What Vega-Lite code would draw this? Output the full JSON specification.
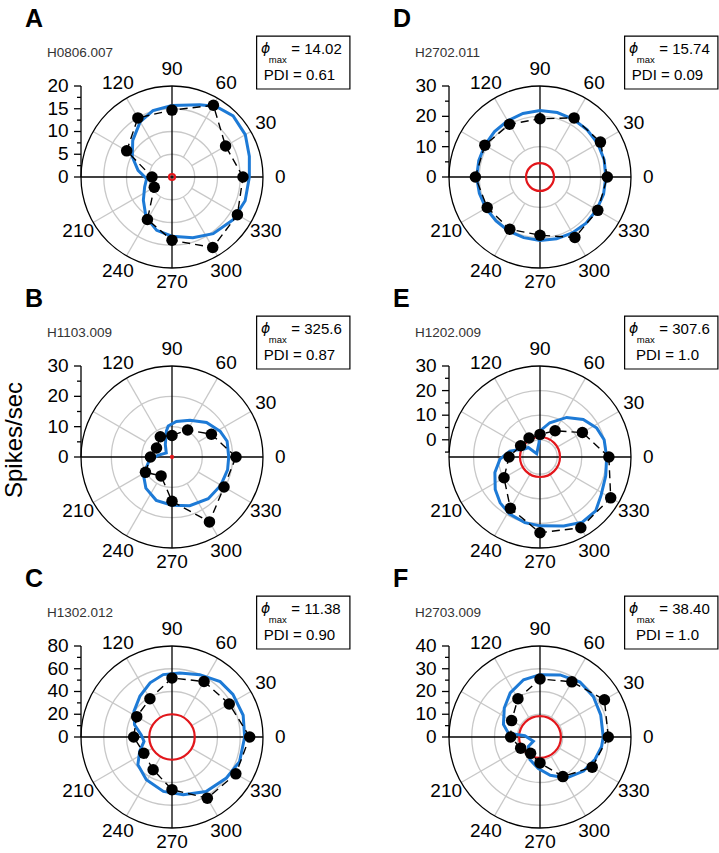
{
"$schema": "https://vega.github.io/schema/vega-lite/v6.json",
"background": "white",
"padding": 0,
"spacing": 0,
"columns": 2,
"align": "each",
"bounds": "flush",
"config": {"font": "Liberation Sans", "view": {"stroke": null}},
"datasets": {"angles": [{"a":0},{"a":30},{"a":60},{"a":90},{"a":120},{"a":210},{"a":240},{"a":270},{"a":300},{"a":330}]},
"concat": [
{
"width": 368, "height": 280,
"data": {"values": [
{"k":"ltr","txt":"A"},{"k":"id","txt":"H0806.007"},{"k":"phi","txt":"= 14.02"},{"k":"pdi","txt":"PDI = 0.61"},
{"k":"g","r":5},{"k":"g","r":10},{"k":"g","r":15},
{"k":"s","a":30,"r":5},{"k":"s","a":60,"r":5},{"k":"s","a":120,"r":5},{"k":"s","a":150,"r":5},{"k":"s","a":210,"r":5},{"k":"s","a":240,"r":5},{"k":"s","a":300,"r":5},{"k":"s","a":330,"r":5},
{"k":"t","r":0,"m":1},{"k":"t","r":2.5,"m":0},{"k":"t","r":5,"m":1},{"k":"t","r":7.5,"m":0},{"k":"t","r":10,"m":1},{"k":"t","r":12.5,"m":0},{"k":"t","r":15,"m":1},{"k":"t","r":17.5,"m":0},{"k":"t","r":20,"m":1},
{"k":"b","r":0.66},
{"k":"d","a":0,"r":15.6},{"k":"d","a":30,"r":13.6},{"k":"d","a":60,"r":18.2},{"k":"d","a":90,"r":14.7},{"k":"d","a":120,"r":15.0},{"k":"d","a":150,"r":11.5},{"k":"d","a":180,"r":4.4},{"k":"d","a":210,"r":4.5},{"k":"d","a":240,"r":10.8},{"k":"d","a":270,"r":13.9},{"k":"d","a":300,"r":17.9},{"k":"d","a":330,"r":16.6},
{"k":"f","a":0,"r":17.0},{"k":"f","a":15,"r":17.6},{"k":"f","a":30,"r":18.6},{"k":"f","a":45,"r":19.0},{"k":"f","a":58,"r":18.3},{"k":"f","a":69,"r":17.0},{"k":"f","a":90,"r":15.7},{"k":"f","a":106,"r":15.2},{"k":"f","a":120,"r":14.0},{"k":"f","a":137,"r":11.8},{"k":"f","a":153,"r":9.8},{"k":"f","a":169,"r":7.6},{"k":"f","a":184,"r":5.6},{"k":"f","a":200,"r":6.4},{"k":"f","a":219,"r":8.1},{"k":"f","a":237,"r":10.5},{"k":"f","a":254,"r":12.2},{"k":"f","a":270,"r":13.0},{"k":"f","a":289,"r":14.1},{"k":"f","a":306,"r":15.4},{"k":"f","a":325,"r":16.4},{"k":"f","a":342,"r":16.9}
]},
"transform": [
{"calculate": "(datum.r - 0)/20", "as": "u"},
{"calculate": "datum.u*cos(datum.a*PI/180)", "as": "x"},
{"calculate": "datum.u*sin(datum.a*PI/180)", "as": "y"},
{"calculate": "cos(datum.a*PI/180)", "as": "x2"},
{"calculate": "sin(datum.a*PI/180)", "as": "y2"},
{"calculate": "0", "as": "o"},
{"calculate": "1", "as": "p1"},
{"calculate": "-1", "as": "m1"}
],
"encoding": {
"x": {"field": "x", "type": "quantitative", "scale": {"domain": [-1.89011, 2.15385], "nice": false, "zero": false}, "axis": null},
"y": {"field": "y", "type": "quantitative", "scale": {"domain": [-1.13187, 1.94505], "nice": false, "zero": false}, "axis": null}
},
"layer": [
{"transform":[{"filter":"datum.k=='g'"}],"mark":{"type":"point","shape":"circle","filled":false,"color":"#c8c8c8","strokeWidth":1.3,"opacity":1},"encoding":{"x":{"field":"o","type":"quantitative","axis":null},"y":{"field":"o","type":"quantitative","axis":null},"size":{"field":"u","type":"quantitative","scale":{"type":"pow","exponent":2,"domain":[0,1],"range":[0,33124]},"legend":null}}},
{"transform":[{"filter":"datum.k=='s'"}],"mark":{"type":"rule","color":"#c8c8c8","strokeWidth":1.3},"encoding":{"x2":{"field":"x2"},"y2":{"field":"y2"}}},
{"transform":[{"filter":"datum.k=='id'"}],"mark":{"type":"point","shape":"circle","filled":false,"color":"black","strokeWidth":1.3,"opacity":1},"encoding":{"x":{"field":"o","type":"quantitative","axis":null},"y":{"field":"o","type":"quantitative","axis":null},"size":{"field":"p1","type":"quantitative","scale":{"type":"pow","exponent":2,"domain":[0,1],"range":[0,33124]},"legend":null}}},
{"transform":[{"filter":"datum.k=='id'"}],"mark":{"type":"rule","color":"black","strokeWidth":1.3},"encoding":{"x":{"field":"m1","type":"quantitative","axis":null},"x2":{"field":"p1"},"y":{"field":"o","type":"quantitative","axis":null}}},
{"transform":[{"filter":"datum.k=='id'"}],"mark":{"type":"rule","color":"black","strokeWidth":1.3},"encoding":{"x":{"field":"o","type":"quantitative","axis":null},"y":{"field":"m1","type":"quantitative","axis":null},"y2":{"field":"p1"}}},
{"transform":[{"filter":"datum.k=='t'"},{"aggregate":[{"op":"min","field":"u","as":"lo"},{"op":"max","field":"u","as":"hi"}]},{"calculate":"-1","as":"m1"}],"mark":{"type":"rule","color":"black","strokeWidth":1.3},"encoding":{"x":{"field":"m1","type":"quantitative","axis":null},"y":{"field":"lo","type":"quantitative","axis":null},"y2":{"field":"hi"}}},
{"transform":[{"filter":"datum.k=='t'"},{"calculate":"datum.m==1 ? -1.077 : -1.044","as":"tx"}],"mark":{"type":"rule","color":"black","strokeWidth":1.3},"encoding":{"x":{"field":"tx","type":"quantitative","axis":null},"x2":{"field":"m1"},"y":{"field":"u","type":"quantitative","axis":null}}},
{"transform":[{"filter":"datum.k=='t' && datum.m==1"},{"calculate":"-1.137","as":"px"}],"mark":{"type":"text","align":"right","baseline":"middle","fontSize":19,"color":"black"},"encoding":{"x":{"field":"px","type":"quantitative","axis":null},"y":{"field":"u","type":"quantitative","axis":null},"text":{"field":"r","type":"nominal"}}},
{"data":{"name":"angles"},"transform":[{"calculate":"(datum.a==270 ? 1.155 : 1.19)*cos(datum.a*PI/180)","as":"lx"},{"calculate":"(datum.a==270 ? 1.155 : 1.19)*sin(datum.a*PI/180)","as":"ly"}],"mark":{"type":"text","align":"center","baseline":"middle","fontSize":19,"color":"black"},"encoding":{"x":{"field":"lx","type":"quantitative","axis":null},"y":{"field":"ly","type":"quantitative","axis":null},"text":{"field":"a","type":"nominal"}}},
{"transform":[{"filter":"datum.k=='b'"}],"mark":{"type":"point","shape":"circle","filled":false,"color":"#e3161b","strokeWidth":2.2,"opacity":1},"encoding":{"x":{"field":"o","type":"quantitative","axis":null},"y":{"field":"o","type":"quantitative","axis":null},"size":{"field":"u","type":"quantitative","scale":{"type":"pow","exponent":2,"domain":[0,1],"range":[0,33124]},"legend":null}}},
{"transform":[{"filter":"datum.k=='f'"}],"mark":{"type":"line","interpolate":"linear-closed","color":"#1d7ad6","strokeWidth":3},"encoding":{"order":{"field":"a","type":"quantitative"}}},
{"transform":[{"filter":"datum.k=='d'"}],"mark":{"type":"line","interpolate":"linear-closed","color":"black","strokeWidth":1.4,"strokeDash":[8,5]},"encoding":{"order":{"field":"a","type":"quantitative"}}},
{"transform":[{"filter":"datum.k=='d'"}],"mark":{"type":"point","shape":"circle","filled":true,"color":"black","size":132,"opacity":1}},
{"transform":[{"filter":"datum.k=='id'"},{"calculate":"0.93","as":"bx1"},{"calculate":"1.955","as":"bx2"},{"calculate":"0.967","as":"by1"},{"calculate":"1.549","as":"by2"}],"mark":{"type":"rect","fill":"white","stroke":"black","strokeWidth":1.2},"encoding":{"x":{"field":"bx1","type":"quantitative","axis":null},"x2":{"field":"bx2"},"y":{"field":"by1","type":"quantitative","axis":null},"y2":{"field":"by2"}}},
{"transform":[{"filter":"datum.k=='id'"},{"calculate":"0.978","as":"px"},{"calculate":"1.363","as":"py"}],"mark":{"type":"text","text":"ϕ","font":"DejaVu Sans","fontStyle":"italic","fontSize":14,"align":"left","baseline":"alphabetic","color":"black"},"encoding":{"x":{"field":"px","type":"quantitative","axis":null},"y":{"field":"py","type":"quantitative","axis":null}}},
{"transform":[{"filter":"datum.k=='id'"},{"calculate":"1.063","as":"px"},{"calculate":"1.249","as":"py"}],"mark":{"type":"text","text":"max","fontSize":9.5,"align":"left","baseline":"alphabetic","color":"black"},"encoding":{"x":{"field":"px","type":"quantitative","axis":null},"y":{"field":"py","type":"quantitative","axis":null}}},
{"transform":[{"filter":"datum.k=='phi'"},{"calculate":"1.311","as":"px"},{"calculate":"1.357","as":"py"}],"mark":{"type":"text","fontSize":15,"align":"left","baseline":"alphabetic","color":"black"},"encoding":{"x":{"field":"px","type":"quantitative","axis":null},"y":{"field":"py","type":"quantitative","axis":null},"text":{"field":"txt","type":"nominal"}}},
{"transform":[{"filter":"datum.k=='pdi'"},{"calculate":"1.401","as":"px"},{"calculate":"1.066","as":"py"}],"mark":{"type":"text","fontSize":15,"align":"center","baseline":"alphabetic","color":"black"},"encoding":{"x":{"field":"px","type":"quantitative","axis":null},"y":{"field":"py","type":"quantitative","axis":null},"text":{"field":"txt","type":"nominal"}}},
{"transform":[{"filter":"datum.k=='id'"},{"calculate":"-1.374","as":"px"},{"calculate":"1.322","as":"py"}],"mark":{"type":"text","fontSize":13.5,"align":"left","baseline":"alphabetic","color":"#333"},"encoding":{"x":{"field":"px","type":"quantitative","axis":null},"y":{"field":"py","type":"quantitative","axis":null},"text":{"field":"txt","type":"nominal"}}},
{"transform":[{"filter":"datum.k=='ltr'"},{"calculate":"-1.615","as":"px"},{"calculate":"1.652","as":"py"}],"mark":{"type":"text","fontSize":25,"fontWeight":"bold","align":"left","baseline":"alphabetic","color":"black"},"encoding":{"x":{"field":"px","type":"quantitative","axis":null},"y":{"field":"py","type":"quantitative","axis":null},"text":{"field":"txt","type":"nominal"}}}
]
},
{
"width": 351, "height": 280,
"data": {"values": [
{"k":"ltr","txt":"D"},{"k":"id","txt":"H2702.011"},{"k":"phi","txt":"= 15.74"},{"k":"pdi","txt":"PDI = 0.09"},
{"k":"g","r":10},{"k":"g","r":20},
{"k":"s","a":30,"r":10},{"k":"s","a":60,"r":10},{"k":"s","a":120,"r":10},{"k":"s","a":150,"r":10},{"k":"s","a":210,"r":10},{"k":"s","a":240,"r":10},{"k":"s","a":300,"r":10},{"k":"s","a":330,"r":10},
{"k":"t","r":0,"m":1},{"k":"t","r":5,"m":0},{"k":"t","r":10,"m":1},{"k":"t","r":15,"m":0},{"k":"t","r":20,"m":1},{"k":"t","r":25,"m":0},{"k":"t","r":30,"m":1},
{"k":"b","r":4.6},
{"k":"d","a":0,"r":22.2},{"k":"d","a":30,"r":23.0},{"k":"d","a":60,"r":22.5},{"k":"d","a":90,"r":19.2},{"k":"d","a":120,"r":20.1},{"k":"d","a":150,"r":21.0},{"k":"d","a":180,"r":21.3},{"k":"d","a":210,"r":20.1},{"k":"d","a":240,"r":19.9},{"k":"d","a":270,"r":19.2},{"k":"d","a":300,"r":23.0},{"k":"d","a":330,"r":22.0},
{"k":"f","a":0,"r":21.7},{"k":"f","a":15,"r":21.9},{"k":"f","a":30,"r":22.0},{"k":"f","a":45,"r":22.0},{"k":"f","a":60,"r":22.0},{"k":"f","a":75,"r":22.0},{"k":"f","a":90,"r":21.9},{"k":"f","a":105,"r":21.7},{"k":"f","a":120,"r":21.4},{"k":"f","a":135,"r":21.2},{"k":"f","a":150,"r":21.0},{"k":"f","a":165,"r":20.9},{"k":"f","a":180,"r":20.9},{"k":"f","a":195,"r":20.7},{"k":"f","a":210,"r":20.6},{"k":"f","a":225,"r":20.5},{"k":"f","a":240,"r":20.6},{"k":"f","a":255,"r":20.7},{"k":"f","a":270,"r":20.9},{"k":"f","a":285,"r":21.1},{"k":"f","a":300,"r":21.3},{"k":"f","a":315,"r":21.5},{"k":"f","a":330,"r":21.6},{"k":"f","a":345,"r":21.7}
]},
"transform": [
{"calculate": "(datum.r - 0)/30", "as": "u"},
{"calculate": "datum.u*cos(datum.a*PI/180)", "as": "x"},
{"calculate": "datum.u*sin(datum.a*PI/180)", "as": "y"},
{"calculate": "cos(datum.a*PI/180)", "as": "x2"},
{"calculate": "sin(datum.a*PI/180)", "as": "y2"},
{"calculate": "0", "as": "o"},
{"calculate": "1", "as": "p1"},
{"calculate": "-1", "as": "m1"}
],
"encoding": {
"x": {"field": "x", "type": "quantitative", "scale": {"domain": [-1.89011, 1.96703], "nice": false, "zero": false}, "axis": null},
"y": {"field": "y", "type": "quantitative", "scale": {"domain": [-1.13187, 1.94505], "nice": false, "zero": false}, "axis": null}
},
"layer": [
{"transform":[{"filter":"datum.k=='g'"}],"mark":{"type":"point","shape":"circle","filled":false,"color":"#c8c8c8","strokeWidth":1.3,"opacity":1},"encoding":{"x":{"field":"o","type":"quantitative","axis":null},"y":{"field":"o","type":"quantitative","axis":null},"size":{"field":"u","type":"quantitative","scale":{"type":"pow","exponent":2,"domain":[0,1],"range":[0,33124]},"legend":null}}},
{"transform":[{"filter":"datum.k=='s'"}],"mark":{"type":"rule","color":"#c8c8c8","strokeWidth":1.3},"encoding":{"x2":{"field":"x2"},"y2":{"field":"y2"}}},
{"transform":[{"filter":"datum.k=='id'"}],"mark":{"type":"point","shape":"circle","filled":false,"color":"black","strokeWidth":1.3,"opacity":1},"encoding":{"x":{"field":"o","type":"quantitative","axis":null},"y":{"field":"o","type":"quantitative","axis":null},"size":{"field":"p1","type":"quantitative","scale":{"type":"pow","exponent":2,"domain":[0,1],"range":[0,33124]},"legend":null}}},
{"transform":[{"filter":"datum.k=='id'"}],"mark":{"type":"rule","color":"black","strokeWidth":1.3},"encoding":{"x":{"field":"m1","type":"quantitative","axis":null},"x2":{"field":"p1"},"y":{"field":"o","type":"quantitative","axis":null}}},
{"transform":[{"filter":"datum.k=='id'"}],"mark":{"type":"rule","color":"black","strokeWidth":1.3},"encoding":{"x":{"field":"o","type":"quantitative","axis":null},"y":{"field":"m1","type":"quantitative","axis":null},"y2":{"field":"p1"}}},
{"transform":[{"filter":"datum.k=='t'"},{"aggregate":[{"op":"min","field":"u","as":"lo"},{"op":"max","field":"u","as":"hi"}]},{"calculate":"-1","as":"m1"}],"mark":{"type":"rule","color":"black","strokeWidth":1.3},"encoding":{"x":{"field":"m1","type":"quantitative","axis":null},"y":{"field":"lo","type":"quantitative","axis":null},"y2":{"field":"hi"}}},
{"transform":[{"filter":"datum.k=='t'"},{"calculate":"datum.m==1 ? -1.077 : -1.044","as":"tx"}],"mark":{"type":"rule","color":"black","strokeWidth":1.3},"encoding":{"x":{"field":"tx","type":"quantitative","axis":null},"x2":{"field":"m1"},"y":{"field":"u","type":"quantitative","axis":null}}},
{"transform":[{"filter":"datum.k=='t' && datum.m==1"},{"calculate":"-1.137","as":"px"}],"mark":{"type":"text","align":"right","baseline":"middle","fontSize":19,"color":"black"},"encoding":{"x":{"field":"px","type":"quantitative","axis":null},"y":{"field":"u","type":"quantitative","axis":null},"text":{"field":"r","type":"nominal"}}},
{"data":{"name":"angles"},"transform":[{"calculate":"(datum.a==270 ? 1.155 : 1.19)*cos(datum.a*PI/180)","as":"lx"},{"calculate":"(datum.a==270 ? 1.155 : 1.19)*sin(datum.a*PI/180)","as":"ly"}],"mark":{"type":"text","align":"center","baseline":"middle","fontSize":19,"color":"black"},"encoding":{"x":{"field":"lx","type":"quantitative","axis":null},"y":{"field":"ly","type":"quantitative","axis":null},"text":{"field":"a","type":"nominal"}}},
{"transform":[{"filter":"datum.k=='b'"}],"mark":{"type":"point","shape":"circle","filled":false,"color":"#e3161b","strokeWidth":2.2,"opacity":1},"encoding":{"x":{"field":"o","type":"quantitative","axis":null},"y":{"field":"o","type":"quantitative","axis":null},"size":{"field":"u","type":"quantitative","scale":{"type":"pow","exponent":2,"domain":[0,1],"range":[0,33124]},"legend":null}}},
{"transform":[{"filter":"datum.k=='f'"}],"mark":{"type":"line","interpolate":"linear-closed","color":"#1d7ad6","strokeWidth":3},"encoding":{"order":{"field":"a","type":"quantitative"}}},
{"transform":[{"filter":"datum.k=='d'"}],"mark":{"type":"line","interpolate":"linear-closed","color":"black","strokeWidth":1.4,"strokeDash":[8,5]},"encoding":{"order":{"field":"a","type":"quantitative"}}},
{"transform":[{"filter":"datum.k=='d'"}],"mark":{"type":"point","shape":"circle","filled":true,"color":"black","size":132,"opacity":1}},
{"transform":[{"filter":"datum.k=='id'"},{"calculate":"0.93","as":"bx1"},{"calculate":"1.955","as":"bx2"},{"calculate":"0.967","as":"by1"},{"calculate":"1.549","as":"by2"}],"mark":{"type":"rect","fill":"white","stroke":"black","strokeWidth":1.2},"encoding":{"x":{"field":"bx1","type":"quantitative","axis":null},"x2":{"field":"bx2"},"y":{"field":"by1","type":"quantitative","axis":null},"y2":{"field":"by2"}}},
{"transform":[{"filter":"datum.k=='id'"},{"calculate":"0.978","as":"px"},{"calculate":"1.363","as":"py"}],"mark":{"type":"text","text":"ϕ","font":"DejaVu Sans","fontStyle":"italic","fontSize":14,"align":"left","baseline":"alphabetic","color":"black"},"encoding":{"x":{"field":"px","type":"quantitative","axis":null},"y":{"field":"py","type":"quantitative","axis":null}}},
{"transform":[{"filter":"datum.k=='id'"},{"calculate":"1.063","as":"px"},{"calculate":"1.249","as":"py"}],"mark":{"type":"text","text":"max","fontSize":9.5,"align":"left","baseline":"alphabetic","color":"black"},"encoding":{"x":{"field":"px","type":"quantitative","axis":null},"y":{"field":"py","type":"quantitative","axis":null}}},
{"transform":[{"filter":"datum.k=='phi'"},{"calculate":"1.311","as":"px"},{"calculate":"1.357","as":"py"}],"mark":{"type":"text","fontSize":15,"align":"left","baseline":"alphabetic","color":"black"},"encoding":{"x":{"field":"px","type":"quantitative","axis":null},"y":{"field":"py","type":"quantitative","axis":null},"text":{"field":"txt","type":"nominal"}}},
{"transform":[{"filter":"datum.k=='pdi'"},{"calculate":"1.401","as":"px"},{"calculate":"1.066","as":"py"}],"mark":{"type":"text","fontSize":15,"align":"center","baseline":"alphabetic","color":"black"},"encoding":{"x":{"field":"px","type":"quantitative","axis":null},"y":{"field":"py","type":"quantitative","axis":null},"text":{"field":"txt","type":"nominal"}}},
{"transform":[{"filter":"datum.k=='id'"},{"calculate":"-1.374","as":"px"},{"calculate":"1.322","as":"py"}],"mark":{"type":"text","fontSize":13.5,"align":"left","baseline":"alphabetic","color":"#333"},"encoding":{"x":{"field":"px","type":"quantitative","axis":null},"y":{"field":"py","type":"quantitative","axis":null},"text":{"field":"txt","type":"nominal"}}},
{"transform":[{"filter":"datum.k=='ltr'"},{"calculate":"-1.615","as":"px"},{"calculate":"1.652","as":"py"}],"mark":{"type":"text","fontSize":25,"fontWeight":"bold","align":"left","baseline":"alphabetic","color":"black"},"encoding":{"x":{"field":"px","type":"quantitative","axis":null},"y":{"field":"py","type":"quantitative","axis":null},"text":{"field":"txt","type":"nominal"}}}
]
},
{
"width": 368, "height": 280,
"data": {"values": [
{"k":"ltr","txt":"B"},{"k":"id","txt":"H1103.009"},{"k":"phi","txt":"= 325.6"},{"k":"pdi","txt":"PDI = 0.87"},{"k":"yl","txt":"Spikes/sec"},
{"k":"g","r":10},{"k":"g","r":20},
{"k":"s","a":30,"r":10},{"k":"s","a":60,"r":10},{"k":"s","a":120,"r":10},{"k":"s","a":150,"r":10},{"k":"s","a":210,"r":10},{"k":"s","a":240,"r":10},{"k":"s","a":300,"r":10},{"k":"s","a":330,"r":10},
{"k":"t","r":0,"m":1},{"k":"t","r":5,"m":0},{"k":"t","r":10,"m":1},{"k":"t","r":15,"m":0},{"k":"t","r":20,"m":1},{"k":"t","r":25,"m":0},{"k":"t","r":30,"m":1},
{"k":"b","r":0.35},
{"k":"d","a":0,"r":21.1},{"k":"d","a":30,"r":15.0},{"k":"d","a":60,"r":10.3},{"k":"d","a":90,"r":7.1},{"k":"d","a":120,"r":7.7},{"k":"d","a":150,"r":5.9},{"k":"d","a":180,"r":7.1},{"k":"d","a":210,"r":10.1},{"k":"d","a":240,"r":7.2},{"k":"d","a":270,"r":14.6},{"k":"d","a":300,"r":24.7},{"k":"d","a":330,"r":19.8},
{"k":"f","a":0,"r":18.7},{"k":"f","a":16,"r":18.9},{"k":"f","a":28,"r":18.0},{"k":"f","a":45,"r":16.1},{"k":"f","a":64,"r":13.5},{"k":"f","a":83,"r":11.8},{"k":"f","a":97,"r":10.3},{"k":"f","a":102,"r":8.8},{"k":"f","a":118,"r":4.7},{"k":"f","a":145,"r":2.3},{"k":"f","a":173,"r":4.7},{"k":"f","a":191,"r":7.8},{"k":"f","a":212,"r":11.1},{"k":"f","a":230,"r":13.4},{"k":"f","a":250,"r":15.2},{"k":"f","a":270,"r":15.9},{"k":"f","a":290,"r":17.1},{"k":"f","a":311,"r":18.2},{"k":"f","a":330,"r":18.6},{"k":"f","a":347,"r":18.8}
]},
"transform": [
{"calculate": "(datum.r - 0)/30", "as": "u"},
{"calculate": "datum.u*cos(datum.a*PI/180)", "as": "x"},
{"calculate": "datum.u*sin(datum.a*PI/180)", "as": "y"},
{"calculate": "cos(datum.a*PI/180)", "as": "x2"},
{"calculate": "sin(datum.a*PI/180)", "as": "y2"},
{"calculate": "0", "as": "o"},
{"calculate": "1", "as": "p1"},
{"calculate": "-1", "as": "m1"}
],
"encoding": {
"x": {"field": "x", "type": "quantitative", "scale": {"domain": [-1.89011, 2.15385], "nice": false, "zero": false}, "axis": null},
"y": {"field": "y", "type": "quantitative", "scale": {"domain": [-1.13187, 1.94505], "nice": false, "zero": false}, "axis": null}
},
"layer": [
{"transform":[{"filter":"datum.k=='g'"}],"mark":{"type":"point","shape":"circle","filled":false,"color":"#c8c8c8","strokeWidth":1.3,"opacity":1},"encoding":{"x":{"field":"o","type":"quantitative","axis":null},"y":{"field":"o","type":"quantitative","axis":null},"size":{"field":"u","type":"quantitative","scale":{"type":"pow","exponent":2,"domain":[0,1],"range":[0,33124]},"legend":null}}},
{"transform":[{"filter":"datum.k=='s'"}],"mark":{"type":"rule","color":"#c8c8c8","strokeWidth":1.3},"encoding":{"x2":{"field":"x2"},"y2":{"field":"y2"}}},
{"transform":[{"filter":"datum.k=='id'"}],"mark":{"type":"point","shape":"circle","filled":false,"color":"black","strokeWidth":1.3,"opacity":1},"encoding":{"x":{"field":"o","type":"quantitative","axis":null},"y":{"field":"o","type":"quantitative","axis":null},"size":{"field":"p1","type":"quantitative","scale":{"type":"pow","exponent":2,"domain":[0,1],"range":[0,33124]},"legend":null}}},
{"transform":[{"filter":"datum.k=='id'"}],"mark":{"type":"rule","color":"black","strokeWidth":1.3},"encoding":{"x":{"field":"m1","type":"quantitative","axis":null},"x2":{"field":"p1"},"y":{"field":"o","type":"quantitative","axis":null}}},
{"transform":[{"filter":"datum.k=='id'"}],"mark":{"type":"rule","color":"black","strokeWidth":1.3},"encoding":{"x":{"field":"o","type":"quantitative","axis":null},"y":{"field":"m1","type":"quantitative","axis":null},"y2":{"field":"p1"}}},
{"transform":[{"filter":"datum.k=='t'"},{"aggregate":[{"op":"min","field":"u","as":"lo"},{"op":"max","field":"u","as":"hi"}]},{"calculate":"-1","as":"m1"}],"mark":{"type":"rule","color":"black","strokeWidth":1.3},"encoding":{"x":{"field":"m1","type":"quantitative","axis":null},"y":{"field":"lo","type":"quantitative","axis":null},"y2":{"field":"hi"}}},
{"transform":[{"filter":"datum.k=='t'"},{"calculate":"datum.m==1 ? -1.077 : -1.044","as":"tx"}],"mark":{"type":"rule","color":"black","strokeWidth":1.3},"encoding":{"x":{"field":"tx","type":"quantitative","axis":null},"x2":{"field":"m1"},"y":{"field":"u","type":"quantitative","axis":null}}},
{"transform":[{"filter":"datum.k=='t' && datum.m==1"},{"calculate":"-1.137","as":"px"}],"mark":{"type":"text","align":"right","baseline":"middle","fontSize":19,"color":"black"},"encoding":{"x":{"field":"px","type":"quantitative","axis":null},"y":{"field":"u","type":"quantitative","axis":null},"text":{"field":"r","type":"nominal"}}},
{"data":{"name":"angles"},"transform":[{"calculate":"(datum.a==270 ? 1.155 : 1.19)*cos(datum.a*PI/180)","as":"lx"},{"calculate":"(datum.a==270 ? 1.155 : 1.19)*sin(datum.a*PI/180)","as":"ly"}],"mark":{"type":"text","align":"center","baseline":"middle","fontSize":19,"color":"black"},"encoding":{"x":{"field":"lx","type":"quantitative","axis":null},"y":{"field":"ly","type":"quantitative","axis":null},"text":{"field":"a","type":"nominal"}}},
{"transform":[{"filter":"datum.k=='b'"}],"mark":{"type":"point","shape":"circle","filled":false,"color":"#e3161b","strokeWidth":2.2,"opacity":1},"encoding":{"x":{"field":"o","type":"quantitative","axis":null},"y":{"field":"o","type":"quantitative","axis":null},"size":{"field":"u","type":"quantitative","scale":{"type":"pow","exponent":2,"domain":[0,1],"range":[0,33124]},"legend":null}}},
{"transform":[{"filter":"datum.k=='f'"}],"mark":{"type":"line","interpolate":"linear-closed","color":"#1d7ad6","strokeWidth":3},"encoding":{"order":{"field":"a","type":"quantitative"}}},
{"transform":[{"filter":"datum.k=='d'"}],"mark":{"type":"line","interpolate":"linear-closed","color":"black","strokeWidth":1.4,"strokeDash":[8,5]},"encoding":{"order":{"field":"a","type":"quantitative"}}},
{"transform":[{"filter":"datum.k=='d'"}],"mark":{"type":"point","shape":"circle","filled":true,"color":"black","size":132,"opacity":1}},
{"transform":[{"filter":"datum.k=='id'"},{"calculate":"0.93","as":"bx1"},{"calculate":"1.955","as":"bx2"},{"calculate":"0.967","as":"by1"},{"calculate":"1.549","as":"by2"}],"mark":{"type":"rect","fill":"white","stroke":"black","strokeWidth":1.2},"encoding":{"x":{"field":"bx1","type":"quantitative","axis":null},"x2":{"field":"bx2"},"y":{"field":"by1","type":"quantitative","axis":null},"y2":{"field":"by2"}}},
{"transform":[{"filter":"datum.k=='id'"},{"calculate":"0.978","as":"px"},{"calculate":"1.363","as":"py"}],"mark":{"type":"text","text":"ϕ","font":"DejaVu Sans","fontStyle":"italic","fontSize":14,"align":"left","baseline":"alphabetic","color":"black"},"encoding":{"x":{"field":"px","type":"quantitative","axis":null},"y":{"field":"py","type":"quantitative","axis":null}}},
{"transform":[{"filter":"datum.k=='id'"},{"calculate":"1.063","as":"px"},{"calculate":"1.249","as":"py"}],"mark":{"type":"text","text":"max","fontSize":9.5,"align":"left","baseline":"alphabetic","color":"black"},"encoding":{"x":{"field":"px","type":"quantitative","axis":null},"y":{"field":"py","type":"quantitative","axis":null}}},
{"transform":[{"filter":"datum.k=='phi'"},{"calculate":"1.311","as":"px"},{"calculate":"1.357","as":"py"}],"mark":{"type":"text","fontSize":15,"align":"left","baseline":"alphabetic","color":"black"},"encoding":{"x":{"field":"px","type":"quantitative","axis":null},"y":{"field":"py","type":"quantitative","axis":null},"text":{"field":"txt","type":"nominal"}}},
{"transform":[{"filter":"datum.k=='pdi'"},{"calculate":"1.401","as":"px"},{"calculate":"1.066","as":"py"}],"mark":{"type":"text","fontSize":15,"align":"center","baseline":"alphabetic","color":"black"},"encoding":{"x":{"field":"px","type":"quantitative","axis":null},"y":{"field":"py","type":"quantitative","axis":null},"text":{"field":"txt","type":"nominal"}}},
{"transform":[{"filter":"datum.k=='id'"},{"calculate":"-1.374","as":"px"},{"calculate":"1.322","as":"py"}],"mark":{"type":"text","fontSize":13.5,"align":"left","baseline":"alphabetic","color":"#333"},"encoding":{"x":{"field":"px","type":"quantitative","axis":null},"y":{"field":"py","type":"quantitative","axis":null},"text":{"field":"txt","type":"nominal"}}},
{"transform":[{"filter":"datum.k=='ltr'"},{"calculate":"-1.615","as":"px"},{"calculate":"1.652","as":"py"}],"mark":{"type":"text","fontSize":25,"fontWeight":"bold","align":"left","baseline":"alphabetic","color":"black"},"encoding":{"x":{"field":"px","type":"quantitative","axis":null},"y":{"field":"py","type":"quantitative","axis":null},"text":{"field":"txt","type":"nominal"}}},
{"transform":[{"filter":"datum.k=='yl'"},{"calculate":"-1.72","as":"px"},{"calculate":"0.187","as":"py"}],"mark":{"type":"text","fontSize":24,"angle":270,"align":"center","baseline":"middle","color":"black"},"encoding":{"x":{"field":"px","type":"quantitative","axis":null},"y":{"field":"py","type":"quantitative","axis":null},"text":{"field":"txt","type":"nominal"}}}
]
},
{
"width": 351, "height": 280,
"data": {"values": [
{"k":"ltr","txt":"E"},{"k":"id","txt":"H1202.009"},{"k":"phi","txt":"= 307.6"},{"k":"pdi","txt":"PDI = 1.0"},
{"k":"g","r":0},{"k":"g","r":10},{"k":"g","r":20},
{"k":"s","a":30,"r":0},{"k":"s","a":60,"r":0},{"k":"s","a":120,"r":0},{"k":"s","a":150,"r":0},{"k":"s","a":210,"r":0},{"k":"s","a":240,"r":0},{"k":"s","a":300,"r":0},{"k":"s","a":330,"r":0},
{"k":"t","r":-5,"m":0},{"k":"t","r":0,"m":1},{"k":"t","r":5,"m":0},{"k":"t","r":10,"m":1},{"k":"t","r":15,"m":0},{"k":"t","r":20,"m":1},{"k":"t","r":25,"m":0},{"k":"t","r":30,"m":1},
{"k":"b","r":1.13},
{"k":"d","a":0,"r":21.0},{"k":"d","a":30,"r":12.9},{"k":"d","a":60,"r":5.3},{"k":"d","a":90,"r":2.2},{"k":"d","a":120,"r":1.9},{"k":"d","a":150,"r":2.1},{"k":"d","a":180,"r":5.6},{"k":"d","a":210,"r":9.9},{"k":"d","a":240,"r":17.1},{"k":"d","a":270,"r":23.8},{"k":"d","a":300,"r":26.2},{"k":"d","a":330,"r":26.2},
{"k":"f","a":0,"r":20.1},{"k":"f","a":15,"r":20.0},{"k":"f","a":27,"r":18.9},{"k":"f","a":41,"r":16.3},{"k":"f","a":56,"r":12.4},{"k":"f","a":74,"r":7.5},{"k":"f","a":90,"r":3.6},{"k":"f","a":94,"r":-1.2},{"k":"f","a":135,"r":-5.1},{"k":"f","a":141,"r":-0.9},{"k":"f","a":151,"r":-0.1},{"k":"f","a":169,"r":5.5},{"k":"f","a":183,"r":9.3},{"k":"f","a":199,"r":12.4},{"k":"f","a":216,"r":15.5},{"k":"f","a":229,"r":17.7},{"k":"f","a":242,"r":19.3},{"k":"f","a":257,"r":20.4},{"k":"f","a":270,"r":21.0},{"k":"f","a":289,"r":22.7},{"k":"f","a":303,"r":24.6},{"k":"f","a":316,"r":24.5},{"k":"f","a":328,"r":22.3},{"k":"f","a":344,"r":20.8}
]},
"transform": [
{"calculate": "(datum.r + 7)/37", "as": "u"},
{"calculate": "datum.u*cos(datum.a*PI/180)", "as": "x"},
{"calculate": "datum.u*sin(datum.a*PI/180)", "as": "y"},
{"calculate": "cos(datum.a*PI/180)", "as": "x2"},
{"calculate": "sin(datum.a*PI/180)", "as": "y2"},
{"calculate": "0", "as": "o"},
{"calculate": "1", "as": "p1"},
{"calculate": "-1", "as": "m1"}
],
"encoding": {
"x": {"field": "x", "type": "quantitative", "scale": {"domain": [-1.89011, 1.96703], "nice": false, "zero": false}, "axis": null},
"y": {"field": "y", "type": "quantitative", "scale": {"domain": [-1.13187, 1.94505], "nice": false, "zero": false}, "axis": null}
},
"layer": [
{"transform":[{"filter":"datum.k=='g'"}],"mark":{"type":"point","shape":"circle","filled":false,"color":"#c8c8c8","strokeWidth":1.3,"opacity":1},"encoding":{"x":{"field":"o","type":"quantitative","axis":null},"y":{"field":"o","type":"quantitative","axis":null},"size":{"field":"u","type":"quantitative","scale":{"type":"pow","exponent":2,"domain":[0,1],"range":[0,33124]},"legend":null}}},
{"transform":[{"filter":"datum.k=='s'"}],"mark":{"type":"rule","color":"#c8c8c8","strokeWidth":1.3},"encoding":{"x2":{"field":"x2"},"y2":{"field":"y2"}}},
{"transform":[{"filter":"datum.k=='id'"}],"mark":{"type":"point","shape":"circle","filled":false,"color":"black","strokeWidth":1.3,"opacity":1},"encoding":{"x":{"field":"o","type":"quantitative","axis":null},"y":{"field":"o","type":"quantitative","axis":null},"size":{"field":"p1","type":"quantitative","scale":{"type":"pow","exponent":2,"domain":[0,1],"range":[0,33124]},"legend":null}}},
{"transform":[{"filter":"datum.k=='id'"}],"mark":{"type":"rule","color":"black","strokeWidth":1.3},"encoding":{"x":{"field":"m1","type":"quantitative","axis":null},"x2":{"field":"p1"},"y":{"field":"o","type":"quantitative","axis":null}}},
{"transform":[{"filter":"datum.k=='id'"}],"mark":{"type":"rule","color":"black","strokeWidth":1.3},"encoding":{"x":{"field":"o","type":"quantitative","axis":null},"y":{"field":"m1","type":"quantitative","axis":null},"y2":{"field":"p1"}}},
{"transform":[{"filter":"datum.k=='t'"},{"aggregate":[{"op":"min","field":"u","as":"lo"},{"op":"max","field":"u","as":"hi"}]},{"calculate":"-1","as":"m1"}],"mark":{"type":"rule","color":"black","strokeWidth":1.3},"encoding":{"x":{"field":"m1","type":"quantitative","axis":null},"y":{"field":"lo","type":"quantitative","axis":null},"y2":{"field":"hi"}}},
{"transform":[{"filter":"datum.k=='t'"},{"calculate":"datum.m==1 ? -1.077 : -1.044","as":"tx"}],"mark":{"type":"rule","color":"black","strokeWidth":1.3},"encoding":{"x":{"field":"tx","type":"quantitative","axis":null},"x2":{"field":"m1"},"y":{"field":"u","type":"quantitative","axis":null}}},
{"transform":[{"filter":"datum.k=='t' && datum.m==1"},{"calculate":"-1.137","as":"px"}],"mark":{"type":"text","align":"right","baseline":"middle","fontSize":19,"color":"black"},"encoding":{"x":{"field":"px","type":"quantitative","axis":null},"y":{"field":"u","type":"quantitative","axis":null},"text":{"field":"r","type":"nominal"}}},
{"data":{"name":"angles"},"transform":[{"calculate":"(datum.a==270 ? 1.155 : 1.19)*cos(datum.a*PI/180)","as":"lx"},{"calculate":"(datum.a==270 ? 1.155 : 1.19)*sin(datum.a*PI/180)","as":"ly"}],"mark":{"type":"text","align":"center","baseline":"middle","fontSize":19,"color":"black"},"encoding":{"x":{"field":"lx","type":"quantitative","axis":null},"y":{"field":"ly","type":"quantitative","axis":null},"text":{"field":"a","type":"nominal"}}},
{"transform":[{"filter":"datum.k=='b'"}],"mark":{"type":"point","shape":"circle","filled":false,"color":"#e3161b","strokeWidth":2.2,"opacity":1},"encoding":{"x":{"field":"o","type":"quantitative","axis":null},"y":{"field":"o","type":"quantitative","axis":null},"size":{"field":"u","type":"quantitative","scale":{"type":"pow","exponent":2,"domain":[0,1],"range":[0,33124]},"legend":null}}},
{"transform":[{"filter":"datum.k=='f'"}],"mark":{"type":"line","interpolate":"linear-closed","color":"#1d7ad6","strokeWidth":3},"encoding":{"order":{"field":"a","type":"quantitative"}}},
{"transform":[{"filter":"datum.k=='d'"}],"mark":{"type":"line","interpolate":"linear-closed","color":"black","strokeWidth":1.4,"strokeDash":[8,5]},"encoding":{"order":{"field":"a","type":"quantitative"}}},
{"transform":[{"filter":"datum.k=='d'"}],"mark":{"type":"point","shape":"circle","filled":true,"color":"black","size":132,"opacity":1}},
{"transform":[{"filter":"datum.k=='id'"},{"calculate":"0.93","as":"bx1"},{"calculate":"1.955","as":"bx2"},{"calculate":"0.967","as":"by1"},{"calculate":"1.549","as":"by2"}],"mark":{"type":"rect","fill":"white","stroke":"black","strokeWidth":1.2},"encoding":{"x":{"field":"bx1","type":"quantitative","axis":null},"x2":{"field":"bx2"},"y":{"field":"by1","type":"quantitative","axis":null},"y2":{"field":"by2"}}},
{"transform":[{"filter":"datum.k=='id'"},{"calculate":"0.978","as":"px"},{"calculate":"1.363","as":"py"}],"mark":{"type":"text","text":"ϕ","font":"DejaVu Sans","fontStyle":"italic","fontSize":14,"align":"left","baseline":"alphabetic","color":"black"},"encoding":{"x":{"field":"px","type":"quantitative","axis":null},"y":{"field":"py","type":"quantitative","axis":null}}},
{"transform":[{"filter":"datum.k=='id'"},{"calculate":"1.063","as":"px"},{"calculate":"1.249","as":"py"}],"mark":{"type":"text","text":"max","fontSize":9.5,"align":"left","baseline":"alphabetic","color":"black"},"encoding":{"x":{"field":"px","type":"quantitative","axis":null},"y":{"field":"py","type":"quantitative","axis":null}}},
{"transform":[{"filter":"datum.k=='phi'"},{"calculate":"1.311","as":"px"},{"calculate":"1.357","as":"py"}],"mark":{"type":"text","fontSize":15,"align":"left","baseline":"alphabetic","color":"black"},"encoding":{"x":{"field":"px","type":"quantitative","axis":null},"y":{"field":"py","type":"quantitative","axis":null},"text":{"field":"txt","type":"nominal"}}},
{"transform":[{"filter":"datum.k=='pdi'"},{"calculate":"1.401","as":"px"},{"calculate":"1.066","as":"py"}],"mark":{"type":"text","fontSize":15,"align":"center","baseline":"alphabetic","color":"black"},"encoding":{"x":{"field":"px","type":"quantitative","axis":null},"y":{"field":"py","type":"quantitative","axis":null},"text":{"field":"txt","type":"nominal"}}},
{"transform":[{"filter":"datum.k=='id'"},{"calculate":"-1.374","as":"px"},{"calculate":"1.322","as":"py"}],"mark":{"type":"text","fontSize":13.5,"align":"left","baseline":"alphabetic","color":"#333"},"encoding":{"x":{"field":"px","type":"quantitative","axis":null},"y":{"field":"py","type":"quantitative","axis":null},"text":{"field":"txt","type":"nominal"}}},
{"transform":[{"filter":"datum.k=='ltr'"},{"calculate":"-1.615","as":"px"},{"calculate":"1.652","as":"py"}],"mark":{"type":"text","fontSize":25,"fontWeight":"bold","align":"left","baseline":"alphabetic","color":"black"},"encoding":{"x":{"field":"px","type":"quantitative","axis":null},"y":{"field":"py","type":"quantitative","axis":null},"text":{"field":"txt","type":"nominal"}}}
]
},
{
"width": 368, "height": 293,
"data": {"values": [
{"k":"ltr","txt":"C"},{"k":"id","txt":"H1302.012"},{"k":"phi","txt":"= 11.38"},{"k":"pdi","txt":"PDI = 0.90"},
{"k":"g","r":20},{"k":"g","r":40},{"k":"g","r":60},
{"k":"s","a":30,"r":20},{"k":"s","a":60,"r":20},{"k":"s","a":120,"r":20},{"k":"s","a":150,"r":20},{"k":"s","a":210,"r":20},{"k":"s","a":240,"r":20},{"k":"s","a":300,"r":20},{"k":"s","a":330,"r":20},
{"k":"t","r":0,"m":1},{"k":"t","r":10,"m":0},{"k":"t","r":20,"m":1},{"k":"t","r":30,"m":0},{"k":"t","r":40,"m":1},{"k":"t","r":50,"m":0},{"k":"t","r":60,"m":1},{"k":"t","r":70,"m":0},{"k":"t","r":80,"m":1},
{"k":"b","r":20},
{"k":"d","a":0,"r":68.3},{"k":"d","a":30,"r":58.1},{"k":"d","a":60,"r":56.3},{"k":"d","a":90,"r":51.9},{"k":"d","a":120,"r":38.8},{"k":"d","a":150,"r":35.8},{"k":"d","a":180,"r":33.7},{"k":"d","a":210,"r":28.6},{"k":"d","a":240,"r":33.2},{"k":"d","a":270,"r":46.3},{"k":"d","a":300,"r":62.1},{"k":"d","a":330,"r":64.8},
{"k":"f","a":0,"r":63.9},{"k":"f","a":17,"r":65.4},{"k":"f","a":35,"r":65.4},{"k":"f","a":49,"r":64.5},{"k":"f","a":66,"r":60.0},{"k":"f","a":83,"r":56.7},{"k":"f","a":98,"r":55.4},{"k":"f","a":112,"r":51.4},{"k":"f","a":128,"r":45.7},{"k":"f","a":146,"r":40.3},{"k":"f","a":162,"r":34.6},{"k":"f","a":176,"r":27.1},{"k":"f","a":189,"r":24.9},{"k":"f","a":204,"r":31.1},{"k":"f","a":219,"r":38.6},{"k":"f","a":239,"r":43.8},{"k":"f","a":261,"r":48.4},{"k":"f","a":281,"r":51.6},{"k":"f","a":302,"r":56.5},{"k":"f","a":323,"r":59.9},{"k":"f","a":340,"r":63.2}
]},
"transform": [
{"calculate": "(datum.r - 0)/80", "as": "u"},
{"calculate": "datum.u*cos(datum.a*PI/180)", "as": "x"},
{"calculate": "datum.u*sin(datum.a*PI/180)", "as": "y"},
{"calculate": "cos(datum.a*PI/180)", "as": "x2"},
{"calculate": "sin(datum.a*PI/180)", "as": "y2"},
{"calculate": "0", "as": "o"},
{"calculate": "1", "as": "p1"},
{"calculate": "-1", "as": "m1"}
],
"encoding": {
"x": {"field": "x", "type": "quantitative", "scale": {"domain": [-1.89011, 2.15385], "nice": false, "zero": false}, "axis": null},
"y": {"field": "y", "type": "quantitative", "scale": {"domain": [-1.27473, 1.94505], "nice": false, "zero": false}, "axis": null}
},
"layer": [
{"transform":[{"filter":"datum.k=='g'"}],"mark":{"type":"point","shape":"circle","filled":false,"color":"#c8c8c8","strokeWidth":1.3,"opacity":1},"encoding":{"x":{"field":"o","type":"quantitative","axis":null},"y":{"field":"o","type":"quantitative","axis":null},"size":{"field":"u","type":"quantitative","scale":{"type":"pow","exponent":2,"domain":[0,1],"range":[0,33124]},"legend":null}}},
{"transform":[{"filter":"datum.k=='s'"}],"mark":{"type":"rule","color":"#c8c8c8","strokeWidth":1.3},"encoding":{"x2":{"field":"x2"},"y2":{"field":"y2"}}},
{"transform":[{"filter":"datum.k=='id'"}],"mark":{"type":"point","shape":"circle","filled":false,"color":"black","strokeWidth":1.3,"opacity":1},"encoding":{"x":{"field":"o","type":"quantitative","axis":null},"y":{"field":"o","type":"quantitative","axis":null},"size":{"field":"p1","type":"quantitative","scale":{"type":"pow","exponent":2,"domain":[0,1],"range":[0,33124]},"legend":null}}},
{"transform":[{"filter":"datum.k=='id'"}],"mark":{"type":"rule","color":"black","strokeWidth":1.3},"encoding":{"x":{"field":"m1","type":"quantitative","axis":null},"x2":{"field":"p1"},"y":{"field":"o","type":"quantitative","axis":null}}},
{"transform":[{"filter":"datum.k=='id'"}],"mark":{"type":"rule","color":"black","strokeWidth":1.3},"encoding":{"x":{"field":"o","type":"quantitative","axis":null},"y":{"field":"m1","type":"quantitative","axis":null},"y2":{"field":"p1"}}},
{"transform":[{"filter":"datum.k=='t'"},{"aggregate":[{"op":"min","field":"u","as":"lo"},{"op":"max","field":"u","as":"hi"}]},{"calculate":"-1","as":"m1"}],"mark":{"type":"rule","color":"black","strokeWidth":1.3},"encoding":{"x":{"field":"m1","type":"quantitative","axis":null},"y":{"field":"lo","type":"quantitative","axis":null},"y2":{"field":"hi"}}},
{"transform":[{"filter":"datum.k=='t'"},{"calculate":"datum.m==1 ? -1.077 : -1.044","as":"tx"}],"mark":{"type":"rule","color":"black","strokeWidth":1.3},"encoding":{"x":{"field":"tx","type":"quantitative","axis":null},"x2":{"field":"m1"},"y":{"field":"u","type":"quantitative","axis":null}}},
{"transform":[{"filter":"datum.k=='t' && datum.m==1"},{"calculate":"-1.137","as":"px"}],"mark":{"type":"text","align":"right","baseline":"middle","fontSize":19,"color":"black"},"encoding":{"x":{"field":"px","type":"quantitative","axis":null},"y":{"field":"u","type":"quantitative","axis":null},"text":{"field":"r","type":"nominal"}}},
{"data":{"name":"angles"},"transform":[{"calculate":"(datum.a==270 ? 1.155 : 1.19)*cos(datum.a*PI/180)","as":"lx"},{"calculate":"(datum.a==270 ? 1.155 : 1.19)*sin(datum.a*PI/180)","as":"ly"}],"mark":{"type":"text","align":"center","baseline":"middle","fontSize":19,"color":"black"},"encoding":{"x":{"field":"lx","type":"quantitative","axis":null},"y":{"field":"ly","type":"quantitative","axis":null},"text":{"field":"a","type":"nominal"}}},
{"transform":[{"filter":"datum.k=='b'"}],"mark":{"type":"point","shape":"circle","filled":false,"color":"#e3161b","strokeWidth":2.2,"opacity":1},"encoding":{"x":{"field":"o","type":"quantitative","axis":null},"y":{"field":"o","type":"quantitative","axis":null},"size":{"field":"u","type":"quantitative","scale":{"type":"pow","exponent":2,"domain":[0,1],"range":[0,33124]},"legend":null}}},
{"transform":[{"filter":"datum.k=='f'"}],"mark":{"type":"line","interpolate":"linear-closed","color":"#1d7ad6","strokeWidth":3},"encoding":{"order":{"field":"a","type":"quantitative"}}},
{"transform":[{"filter":"datum.k=='d'"}],"mark":{"type":"line","interpolate":"linear-closed","color":"black","strokeWidth":1.4,"strokeDash":[8,5]},"encoding":{"order":{"field":"a","type":"quantitative"}}},
{"transform":[{"filter":"datum.k=='d'"}],"mark":{"type":"point","shape":"circle","filled":true,"color":"black","size":132,"opacity":1}},
{"transform":[{"filter":"datum.k=='id'"},{"calculate":"0.93","as":"bx1"},{"calculate":"1.955","as":"bx2"},{"calculate":"0.967","as":"by1"},{"calculate":"1.549","as":"by2"}],"mark":{"type":"rect","fill":"white","stroke":"black","strokeWidth":1.2},"encoding":{"x":{"field":"bx1","type":"quantitative","axis":null},"x2":{"field":"bx2"},"y":{"field":"by1","type":"quantitative","axis":null},"y2":{"field":"by2"}}},
{"transform":[{"filter":"datum.k=='id'"},{"calculate":"0.978","as":"px"},{"calculate":"1.363","as":"py"}],"mark":{"type":"text","text":"ϕ","font":"DejaVu Sans","fontStyle":"italic","fontSize":14,"align":"left","baseline":"alphabetic","color":"black"},"encoding":{"x":{"field":"px","type":"quantitative","axis":null},"y":{"field":"py","type":"quantitative","axis":null}}},
{"transform":[{"filter":"datum.k=='id'"},{"calculate":"1.063","as":"px"},{"calculate":"1.249","as":"py"}],"mark":{"type":"text","text":"max","fontSize":9.5,"align":"left","baseline":"alphabetic","color":"black"},"encoding":{"x":{"field":"px","type":"quantitative","axis":null},"y":{"field":"py","type":"quantitative","axis":null}}},
{"transform":[{"filter":"datum.k=='phi'"},{"calculate":"1.311","as":"px"},{"calculate":"1.357","as":"py"}],"mark":{"type":"text","fontSize":15,"align":"left","baseline":"alphabetic","color":"black"},"encoding":{"x":{"field":"px","type":"quantitative","axis":null},"y":{"field":"py","type":"quantitative","axis":null},"text":{"field":"txt","type":"nominal"}}},
{"transform":[{"filter":"datum.k=='pdi'"},{"calculate":"1.401","as":"px"},{"calculate":"1.066","as":"py"}],"mark":{"type":"text","fontSize":15,"align":"center","baseline":"alphabetic","color":"black"},"encoding":{"x":{"field":"px","type":"quantitative","axis":null},"y":{"field":"py","type":"quantitative","axis":null},"text":{"field":"txt","type":"nominal"}}},
{"transform":[{"filter":"datum.k=='id'"},{"calculate":"-1.374","as":"px"},{"calculate":"1.322","as":"py"}],"mark":{"type":"text","fontSize":13.5,"align":"left","baseline":"alphabetic","color":"#333"},"encoding":{"x":{"field":"px","type":"quantitative","axis":null},"y":{"field":"py","type":"quantitative","axis":null},"text":{"field":"txt","type":"nominal"}}},
{"transform":[{"filter":"datum.k=='ltr'"},{"calculate":"-1.615","as":"px"},{"calculate":"1.652","as":"py"}],"mark":{"type":"text","fontSize":25,"fontWeight":"bold","align":"left","baseline":"alphabetic","color":"black"},"encoding":{"x":{"field":"px","type":"quantitative","axis":null},"y":{"field":"py","type":"quantitative","axis":null},"text":{"field":"txt","type":"nominal"}}}
]
},
{
"width": 351, "height": 293,
"data": {"values": [
{"k":"ltr","txt":"F"},{"k":"id","txt":"H2703.009"},{"k":"phi","txt":"= 38.40"},{"k":"pdi","txt":"PDI = 1.0"},
{"k":"g","r":10},{"k":"g","r":20},{"k":"g","r":30},
{"k":"s","a":30,"r":10},{"k":"s","a":60,"r":10},{"k":"s","a":120,"r":10},{"k":"s","a":150,"r":10},{"k":"s","a":210,"r":10},{"k":"s","a":240,"r":10},{"k":"s","a":300,"r":10},{"k":"s","a":330,"r":10},
{"k":"t","r":0,"m":1},{"k":"t","r":5,"m":0},{"k":"t","r":10,"m":1},{"k":"t","r":15,"m":0},{"k":"t","r":20,"m":1},{"k":"t","r":25,"m":0},{"k":"t","r":30,"m":1},{"k":"t","r":35,"m":0},{"k":"t","r":40,"m":1},
{"k":"b","r":9.2},
{"k":"d","a":0,"r":30.0},{"k":"d","a":30,"r":32.7},{"k":"d","a":60,"r":28.0},{"k":"d","a":90,"r":25.5},{"k":"d","a":120,"r":19.4},{"k":"d","a":150,"r":14.4},{"k":"d","a":180,"r":12.9},{"k":"d","a":210,"r":9.8},{"k":"d","a":240,"r":8.3},{"k":"d","a":270,"r":11.4},{"k":"d","a":300,"r":20.1},{"k":"d","a":330,"r":26.5},
{"k":"f","a":0,"r":27.8},{"k":"f","a":20,"r":28.4},{"k":"f","a":37,"r":29.4},{"k":"f","a":54,"r":29.9},{"k":"f","a":72,"r":28.7},{"k":"f","a":90,"r":27.4},{"k":"f","a":106,"r":26.2},{"k":"f","a":124,"r":23.4},{"k":"f","a":141,"r":20.2},{"k":"f","a":161,"r":17.0},{"k":"f","a":173,"r":14.0},{"k":"f","a":175,"r":6.7},{"k":"f","a":213,"r":3.5},{"k":"f","a":219,"r":6.6},{"k":"f","a":246,"r":10.9},{"k":"f","a":267,"r":13.9},{"k":"f","a":285,"r":17.4},{"k":"f","a":303,"r":21.5},{"k":"f","a":322,"r":24.3},{"k":"f","a":338,"r":26.1},{"k":"f","a":351,"r":27.4}
]},
"transform": [
{"calculate": "(datum.r - 0)/40", "as": "u"},
{"calculate": "datum.u*cos(datum.a*PI/180)", "as": "x"},
{"calculate": "datum.u*sin(datum.a*PI/180)", "as": "y"},
{"calculate": "cos(datum.a*PI/180)", "as": "x2"},
{"calculate": "sin(datum.a*PI/180)", "as": "y2"},
{"calculate": "0", "as": "o"},
{"calculate": "1", "as": "p1"},
{"calculate": "-1", "as": "m1"}
],
"encoding": {
"x": {"field": "x", "type": "quantitative", "scale": {"domain": [-1.89011, 1.96703], "nice": false, "zero": false}, "axis": null},
"y": {"field": "y", "type": "quantitative", "scale": {"domain": [-1.27473, 1.94505], "nice": false, "zero": false}, "axis": null}
},
"layer": [
{"transform":[{"filter":"datum.k=='g'"}],"mark":{"type":"point","shape":"circle","filled":false,"color":"#c8c8c8","strokeWidth":1.3,"opacity":1},"encoding":{"x":{"field":"o","type":"quantitative","axis":null},"y":{"field":"o","type":"quantitative","axis":null},"size":{"field":"u","type":"quantitative","scale":{"type":"pow","exponent":2,"domain":[0,1],"range":[0,33124]},"legend":null}}},
{"transform":[{"filter":"datum.k=='s'"}],"mark":{"type":"rule","color":"#c8c8c8","strokeWidth":1.3},"encoding":{"x2":{"field":"x2"},"y2":{"field":"y2"}}},
{"transform":[{"filter":"datum.k=='id'"}],"mark":{"type":"point","shape":"circle","filled":false,"color":"black","strokeWidth":1.3,"opacity":1},"encoding":{"x":{"field":"o","type":"quantitative","axis":null},"y":{"field":"o","type":"quantitative","axis":null},"size":{"field":"p1","type":"quantitative","scale":{"type":"pow","exponent":2,"domain":[0,1],"range":[0,33124]},"legend":null}}},
{"transform":[{"filter":"datum.k=='id'"}],"mark":{"type":"rule","color":"black","strokeWidth":1.3},"encoding":{"x":{"field":"m1","type":"quantitative","axis":null},"x2":{"field":"p1"},"y":{"field":"o","type":"quantitative","axis":null}}},
{"transform":[{"filter":"datum.k=='id'"}],"mark":{"type":"rule","color":"black","strokeWidth":1.3},"encoding":{"x":{"field":"o","type":"quantitative","axis":null},"y":{"field":"m1","type":"quantitative","axis":null},"y2":{"field":"p1"}}},
{"transform":[{"filter":"datum.k=='t'"},{"aggregate":[{"op":"min","field":"u","as":"lo"},{"op":"max","field":"u","as":"hi"}]},{"calculate":"-1","as":"m1"}],"mark":{"type":"rule","color":"black","strokeWidth":1.3},"encoding":{"x":{"field":"m1","type":"quantitative","axis":null},"y":{"field":"lo","type":"quantitative","axis":null},"y2":{"field":"hi"}}},
{"transform":[{"filter":"datum.k=='t'"},{"calculate":"datum.m==1 ? -1.077 : -1.044","as":"tx"}],"mark":{"type":"rule","color":"black","strokeWidth":1.3},"encoding":{"x":{"field":"tx","type":"quantitative","axis":null},"x2":{"field":"m1"},"y":{"field":"u","type":"quantitative","axis":null}}},
{"transform":[{"filter":"datum.k=='t' && datum.m==1"},{"calculate":"-1.137","as":"px"}],"mark":{"type":"text","align":"right","baseline":"middle","fontSize":19,"color":"black"},"encoding":{"x":{"field":"px","type":"quantitative","axis":null},"y":{"field":"u","type":"quantitative","axis":null},"text":{"field":"r","type":"nominal"}}},
{"data":{"name":"angles"},"transform":[{"calculate":"(datum.a==270 ? 1.155 : 1.19)*cos(datum.a*PI/180)","as":"lx"},{"calculate":"(datum.a==270 ? 1.155 : 1.19)*sin(datum.a*PI/180)","as":"ly"}],"mark":{"type":"text","align":"center","baseline":"middle","fontSize":19,"color":"black"},"encoding":{"x":{"field":"lx","type":"quantitative","axis":null},"y":{"field":"ly","type":"quantitative","axis":null},"text":{"field":"a","type":"nominal"}}},
{"transform":[{"filter":"datum.k=='b'"}],"mark":{"type":"point","shape":"circle","filled":false,"color":"#e3161b","strokeWidth":2.2,"opacity":1},"encoding":{"x":{"field":"o","type":"quantitative","axis":null},"y":{"field":"o","type":"quantitative","axis":null},"size":{"field":"u","type":"quantitative","scale":{"type":"pow","exponent":2,"domain":[0,1],"range":[0,33124]},"legend":null}}},
{"transform":[{"filter":"datum.k=='f'"}],"mark":{"type":"line","interpolate":"linear-closed","color":"#1d7ad6","strokeWidth":3},"encoding":{"order":{"field":"a","type":"quantitative"}}},
{"transform":[{"filter":"datum.k=='d'"}],"mark":{"type":"line","interpolate":"linear-closed","color":"black","strokeWidth":1.4,"strokeDash":[8,5]},"encoding":{"order":{"field":"a","type":"quantitative"}}},
{"transform":[{"filter":"datum.k=='d'"}],"mark":{"type":"point","shape":"circle","filled":true,"color":"black","size":132,"opacity":1}},
{"transform":[{"filter":"datum.k=='id'"},{"calculate":"0.93","as":"bx1"},{"calculate":"1.955","as":"bx2"},{"calculate":"0.967","as":"by1"},{"calculate":"1.549","as":"by2"}],"mark":{"type":"rect","fill":"white","stroke":"black","strokeWidth":1.2},"encoding":{"x":{"field":"bx1","type":"quantitative","axis":null},"x2":{"field":"bx2"},"y":{"field":"by1","type":"quantitative","axis":null},"y2":{"field":"by2"}}},
{"transform":[{"filter":"datum.k=='id'"},{"calculate":"0.978","as":"px"},{"calculate":"1.363","as":"py"}],"mark":{"type":"text","text":"ϕ","font":"DejaVu Sans","fontStyle":"italic","fontSize":14,"align":"left","baseline":"alphabetic","color":"black"},"encoding":{"x":{"field":"px","type":"quantitative","axis":null},"y":{"field":"py","type":"quantitative","axis":null}}},
{"transform":[{"filter":"datum.k=='id'"},{"calculate":"1.063","as":"px"},{"calculate":"1.249","as":"py"}],"mark":{"type":"text","text":"max","fontSize":9.5,"align":"left","baseline":"alphabetic","color":"black"},"encoding":{"x":{"field":"px","type":"quantitative","axis":null},"y":{"field":"py","type":"quantitative","axis":null}}},
{"transform":[{"filter":"datum.k=='phi'"},{"calculate":"1.311","as":"px"},{"calculate":"1.357","as":"py"}],"mark":{"type":"text","fontSize":15,"align":"left","baseline":"alphabetic","color":"black"},"encoding":{"x":{"field":"px","type":"quantitative","axis":null},"y":{"field":"py","type":"quantitative","axis":null},"text":{"field":"txt","type":"nominal"}}},
{"transform":[{"filter":"datum.k=='pdi'"},{"calculate":"1.401","as":"px"},{"calculate":"1.066","as":"py"}],"mark":{"type":"text","fontSize":15,"align":"center","baseline":"alphabetic","color":"black"},"encoding":{"x":{"field":"px","type":"quantitative","axis":null},"y":{"field":"py","type":"quantitative","axis":null},"text":{"field":"txt","type":"nominal"}}},
{"transform":[{"filter":"datum.k=='id'"},{"calculate":"-1.374","as":"px"},{"calculate":"1.322","as":"py"}],"mark":{"type":"text","fontSize":13.5,"align":"left","baseline":"alphabetic","color":"#333"},"encoding":{"x":{"field":"px","type":"quantitative","axis":null},"y":{"field":"py","type":"quantitative","axis":null},"text":{"field":"txt","type":"nominal"}}},
{"transform":[{"filter":"datum.k=='ltr'"},{"calculate":"-1.615","as":"px"},{"calculate":"1.652","as":"py"}],"mark":{"type":"text","fontSize":25,"fontWeight":"bold","align":"left","baseline":"alphabetic","color":"black"},"encoding":{"x":{"field":"px","type":"quantitative","axis":null},"y":{"field":"py","type":"quantitative","axis":null},"text":{"field":"txt","type":"nominal"}}}
]
}
]
}
